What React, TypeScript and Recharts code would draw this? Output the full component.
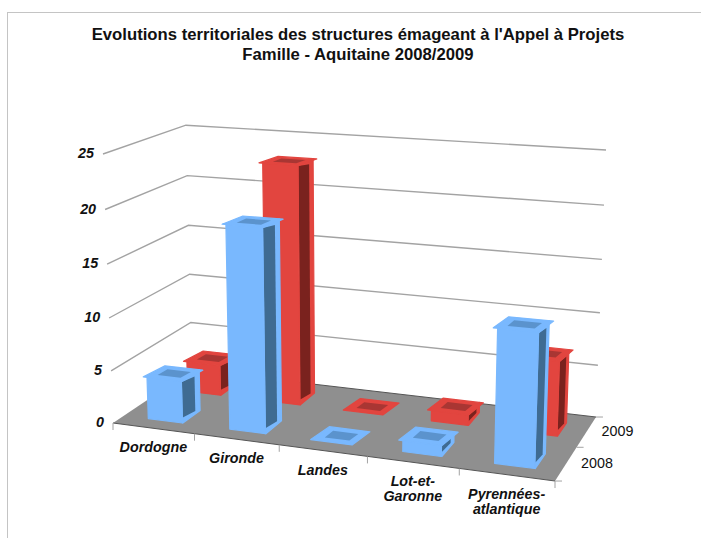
import React from 'react';
import { BarChart, Bar, XAxis, YAxis, CartesianGrid } from 'recharts';

const categories = ['Dordogne', 'Gironde', 'Landes', 'Lot-et-\nGaronne', 'Pyrennées-\natlantique'];
const values2008 = [4, 19, 0, 1, 12];
const values2009 = [3, 23, 0, 1, 7];
const yTicks = [0, 5, 10, 15, 20, 25];
const years = ['2008', '2009'];

const data = categories.map((name, i) => ({ name, y2008: values2008[i], y2009: values2009[i] }));

const WIDTH = 701;
const HEIGHT = 538;
// plot box that recharts lays out, it is then pushed through the 3D projection
const LEFT = 113;
const TOP = 154;
const PLOT_W = 442;
const PLOT_H = 269;
const MAX = 25;
const BAR_SHIFT = 0.004;

const LABEL = { fontFamily: '"Liberation Sans", Arial, sans-serif', fontSize: 14.3 };

// perspective projection fitted on the floor and wall corners of the picture
const project = (u: number, v: number, h: number) => {
  const w = 1 - 0.0957 * u + 0.1038 * v - 0.04 * h;
  return [
    (113 + 388.9 * u + 98.9 * v - 14.1 * h) / w,
    (423 + 12 * u - 14.6 * v - 275.2 * h) / w,
  ];
};

const pts = (list: number[][]) => list.map((p) => `${p[0].toFixed(1)},${p[1].toFixed(1)}`).join(' ');

const BLUE = { face: '#79b8fe', side: '#3f6b92', top: '#5b93cd' };
const RED = { face: '#e2453f', side: '#7a221e', top: '#a93633' };

const Bar3D = ({ x, width, height, v0, v1, colors }: any) => {
  const u0 = (x - LEFT) / PLOT_W + BAR_SHIFT;
  const u1 = (x + width - LEFT) / PLOT_W + BAR_SHIFT;
  const h = height / PLOT_H;
  const du = u1 - u0;
  const dv = v1 - v0;
  const vMid = v0 + dv * 0.72;
  const s = { stroke: colors.face, strokeWidth: 1.2, strokeLinejoin: 'round' as const };
  return (
    <g>
      {h > 0 && (
        <>
          <polygon points={pts([project(u1, v0, 0), project(u1, v1, 0), project(u1, v1, h), project(u1, v0, h)])} fill={colors.face} {...s} />
          <polygon
            points={pts([
              project(u1, v0, Math.min(0.022, h * 0.4)),
              project(u1, vMid, Math.min(0.012, h * 0.3)),
              project(u1, vMid, h - Math.min(0.014, h * 0.2)),
              project(u1, v0, h - Math.min(0.002, h * 0.1)),
            ])}
            fill={colors.side}
          />
          <polygon points={pts([project(u0, v0, 0), project(u1 - 0.001, v0, 0), project(u1 - 0.001, v0, h), project(u0, v0, h)])} fill={colors.face} {...s} />
        </>
      )}
      <polygon
        points={pts([project(u0 - 0.009, v0, h), project(u1, v0, h), project(u1 + 0.009, v1, h), project(u0, v1, h)])}
        fill={colors.face}
        {...s}
      />
      <polygon
        points={pts([
          project(u0 + du * 0.17, v0 + dv * 0.26, h),
          project(u1 - du * 0.17, v0 + dv * 0.26, h),
          project(u1 - du * 0.12, v1 - dv * 0.24, h),
          project(u0 + du * 0.2, v1 - dv * 0.24, h),
        ])}
        fill={colors.top}
      />
    </g>
  );
};

// one grid line follows the left wall and the back wall, the 0 line also carries the floor
const GridLine = (props: any) => {
  const h = (TOP + PLOT_H - props.y1) / PLOT_H;
  if (h > 0.001) {
    return (
      <polyline
        key={props.key}
        points={pts([project(0, 0, h), project(0, 1, h), project(1, 1, h)])}
        fill="none"
        stroke="#a3a3a3"
        strokeWidth={1.4}
      />
    );
  }
  const edge = '#555555';
  return (
    <g key={props.key}>
      <polygon points={pts([project(0, 0, 0), project(1, 0, 0), project(1, 1, 0), project(0, 1, 0)])} fill="#8f8f8f" />
      <polyline points={pts([project(0, 1, 0), project(1, 1, 0)])} fill="none" stroke={edge} strokeWidth={1} />
      <polyline points={pts([project(0, 0, 0), project(1, 0, 0)])} fill="none" stroke={edge} strokeWidth={1} />
      {[0, 0.5, 1].map((v) => {
        const p = project(1, v, 0);
        return <line key={v} x1={p[0]} y1={p[1]} x2={p[0] + 7} y2={p[1]} stroke="#a3a3a3" />;
      })}
      {years.map((year, i) => {
        const p = project(1, 0.25 + i * 0.5, 0);
        return (
          <text key={year} x={p[0] + 15} y={p[1] + 4} {...LABEL} fill="#111111">
            {year}
          </text>
        );
      })}
    </g>
  );
};

const ValueTick = ({ payload }: any) => {
  const p = project(0, 0, payload.value / MAX);
  return (
    <text x={p[0] - 9} y={p[1] + 4} textAnchor="end" {...LABEL} fontWeight="bold" fontStyle="italic" fill="#111111">
      {payload.value}
    </text>
  );
};

const CategoryTick = ({ x, index, payload }: any) => {
  const u = (x - LEFT) / PLOT_W;
  const half = 0.5 / categories.length;
  const p = project(u, 0, 0);
  const marks = index === categories.length - 1 ? [u - half, u + half] : [u - half];
  return (
    <g>
      {marks.map((m) => {
        const t = project(m, 0, 0);
        return <line key={m} x1={t[0]} y1={t[1]} x2={t[0]} y2={t[1] + 7} stroke="#a3a3a3" />;
      })}
      <text textAnchor="middle" {...LABEL} fontWeight="bold" fontStyle="italic" fill="#111111">
        {String(payload.value).split('\n').map((line, i) => (
          <tspan key={line} x={p[0]} y={p[1] + 24 + i * 15}>
            {line}
          </tspan>
        ))}
      </text>
    </g>
  );
};

export default function App() {
  return (
    <div style={{ position: 'absolute', left: 0, top: 0, width: WIDTH, height: HEIGHT, overflow: 'hidden', background: '#fff' }}>
      <div style={{ position: 'absolute', left: 7, top: 12, right: 0, bottom: 0, borderLeft: '1px solid #c4c4c4', borderTop: '1px solid #c4c4c4' }} />
      <div
        style={{
          position: 'absolute',
          left: 58,
          top: 25,
          width: 600,
          textAlign: 'center',
          fontFamily: '"Liberation Sans", Arial, sans-serif',
          fontWeight: 'bold',
          fontSize: 16.7,
          lineHeight: '19.5px',
          color: '#111111',
        }}
      >
        Evolutions territoriales des structures émageant à l'Appel à Projets
        <br />
        Famille - Aquitaine 2008/2009
      </div>
      <div style={{ position: 'absolute', left: 0, top: 0 }}>
        <BarChart
          width={WIDTH}
          height={HEIGHT}
          data={data}
          margin={{ left: LEFT - 40, top: TOP, right: WIDTH - LEFT - PLOT_W, bottom: HEIGHT - TOP - PLOT_H - 30 }}
        >
          <CartesianGrid vertical={false} horizontal={(p: any) => <GridLine {...p} />} />
          <XAxis xAxisId="a" dataKey="name" height={30} interval={0} axisLine={false} tickLine={false} tick={(p: any) => <CategoryTick {...p} />} />
          <XAxis xAxisId="b" dataKey="name" hide />
          <YAxis width={40} domain={[0, MAX]} ticks={yTicks} interval={0} axisLine={false} tickLine={false} tick={(p: any) => <ValueTick {...p} />} />
          <Bar
            xAxisId="b"
            dataKey="y2009"
            barSize={38}
            isAnimationActive={false}
            shape={(p: any) => <Bar3D {...p} v0={0.63} v1={0.85} colors={RED} />}
          />
          <Bar
            xAxisId="a"
            dataKey="y2008"
            barSize={38}
            isAnimationActive={false}
            shape={(p: any) => <Bar3D {...p} v0={0.13} v1={0.35} colors={BLUE} />}
          />
        </BarChart>
      </div>
    </div>
  );
}
